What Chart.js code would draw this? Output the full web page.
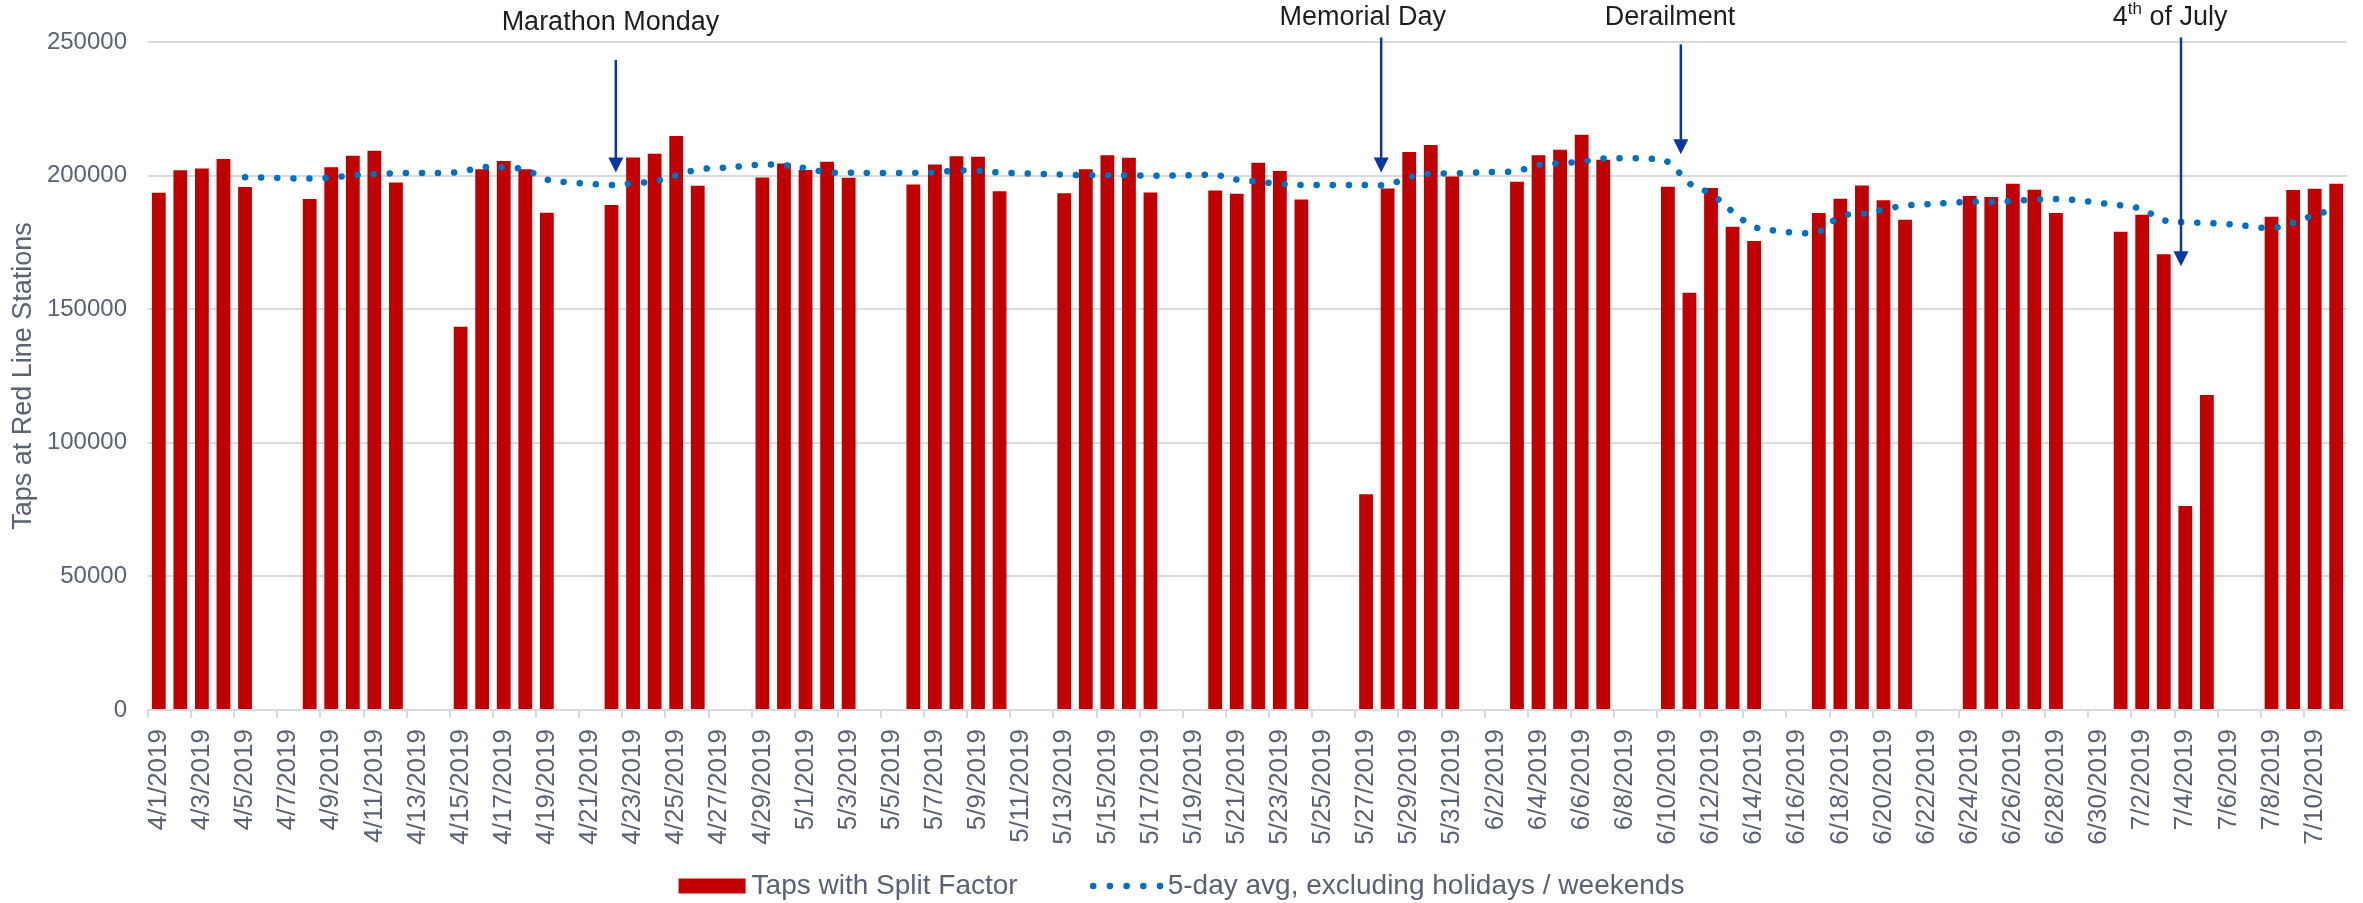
<!DOCTYPE html>
<html>
<head>
<meta charset="utf-8">
<script src="https://cdn.jsdelivr.net/npm/chart.js@4/dist/chart.umd.min.js"></script>
<style>
  html, body { margin: 0; padding: 0; background: #fff; }
  canvas { display: block; }
</style>
</head>
<body>
<canvas id="chart" width="2363" height="903"></canvas>
<script>
const days = [
  "4/1/2019","4/2/2019","4/3/2019","4/4/2019","4/5/2019","4/6/2019","4/7/2019","4/8/2019","4/9/2019","4/10/2019",
  "4/11/2019","4/12/2019","4/13/2019","4/14/2019","4/15/2019","4/16/2019","4/17/2019","4/18/2019","4/19/2019","4/20/2019",
  "4/21/2019","4/22/2019","4/23/2019","4/24/2019","4/25/2019","4/26/2019","4/27/2019","4/28/2019","4/29/2019","4/30/2019",
  "5/1/2019","5/2/2019","5/3/2019","5/4/2019","5/5/2019","5/6/2019","5/7/2019","5/8/2019","5/9/2019","5/10/2019",
  "5/11/2019","5/12/2019","5/13/2019","5/14/2019","5/15/2019","5/16/2019","5/17/2019","5/18/2019","5/19/2019","5/20/2019",
  "5/21/2019","5/22/2019","5/23/2019","5/24/2019","5/25/2019","5/26/2019","5/27/2019","5/28/2019","5/29/2019","5/30/2019",
  "5/31/2019","6/1/2019","6/2/2019","6/3/2019","6/4/2019","6/5/2019","6/6/2019","6/7/2019","6/8/2019","6/9/2019",
  "6/10/2019","6/11/2019","6/12/2019","6/13/2019","6/14/2019","6/15/2019","6/16/2019","6/17/2019","6/18/2019","6/19/2019",
  "6/20/2019","6/21/2019","6/22/2019","6/23/2019","6/24/2019","6/25/2019","6/26/2019","6/27/2019","6/28/2019","6/29/2019",
  "6/30/2019","7/1/2019","7/2/2019","7/3/2019","7/4/2019","7/5/2019","7/6/2019","7/7/2019","7/8/2019","7/9/2019",
  "7/10/2019","7/11/2019"
];

// daily taps (weekends empty)
const taps = [
  193600, 201960, 202700, 206200, 195700, null, null,
  191200, 203100, 207450, 209300, 197450, null, null,
  143450, 202330, 205430, 202330, 186100, null, null,
  188970, 206800, 208200, 214800, 196200, null, null,
  199330, 204570,
  202070, 205200, 199200, null, null,
  196700, 204200, 207200, 207070, 194100, null, null,
  193350, 202330, 207570, 206700, 193700, null, null,
  194470, 193230, 204830, 201700, 191100, null, null,
  80700, 195200, 208800, 211420, 199700,
  null, null,
  197700, 207570, 209700, 215300, 205950, null, null,
  195850, 156180, 195340, 180880, 175500, null, null,
  185980, 191360, 196340, 190730, 183500, null, null,
  192340, 191970, 196980, 194730, 185980, null, null,
  179000, 185370, 170520, 76340, 117870, null, null,
  184630, 194580, 195100, 196980
];

// 5-day average
const avg5 = [
  null, null, null, null, 199380, 199250, 199000, 198900, 199250, 200120,
  200620, 200870, 201000, 201000, 201370, 203120, 203120, 202120, 198500, 197500,
  196880, 196500, 197130, 197880, 200120, 202250, 202870, 203490, 204120, 203870,
  202740, 201250, 201120, 201000, 201000, 201000, 201250, 201870, 201870, 201120,
  200870, 200620, 200370, 200120, 200120, 200120, 200000, 200000, 200120, 200250,
  198500, 197750, 196880, 196500, 196500, 196500, 196500, 196630, 199380, 200750,
  200750,
  201120, 201370, 201750, 203990, 204610, 205240, 206360, 206480, 206360, 205110,
  197060, 193140, 186530, 180860, 179370, 178600, 178960, 184790, 185660, 187280,
  188780, 189280, 189770, 190150, 190150, 190520, 191020, 191270, 190770, 189770,
  188900, 187400, 183290, 182540, 182290, 181790, 181040, 180420, 182290, 185290,
  187400
];

const yTicks = [0, 50000, 100000, 150000, 200000, 250000];

// callouts: where the label sits, where the arrow points (category index, y value)
const callouts = [
  { parts: ["Marathon Monday"], textAt: 20.95, textY: 257400, arrowAt: 21.2, fromY: 243300, toY: 201200 },
  { parts: ["Memorial Day"], textAt: 55.85, textY: 259200, arrowAt: 56.7, fromY: 251700, toY: 201200 },
  { parts: ["Derailment"], textAt: 70.1, textY: 259200, arrowAt: 70.6, fromY: 249100, toY: 208000 },
  { parts: ["4", "th", " of July"], textAt: 93.3, textY: 259200, arrowAt: 93.8, fromY: 251700, toY: 166100 }
];

const FONT = '"Liberation Sans", Arial, sans-serif';
const GREY = "#5B6274";
const GRID = "#D9D9DE";

const calloutPlugin = {
  id: "callouts",
  afterDraw(chart){
    const {ctx, scales: {x, y}} = chart;
    ctx.save();
    callouts.forEach((c)=>{
      // arrow
      const ax = x.getPixelForValue(c.arrowAt);
      const y1 = y.getPixelForValue(c.fromY);
      const y2 = y.getPixelForValue(c.toY);
      ctx.strokeStyle = "#0B37A3";
      ctx.fillStyle = "#0B37A3";
      ctx.lineWidth = 2.5;
      ctx.setLineDash([]);
      ctx.beginPath();
      ctx.moveTo(ax, y1);
      ctx.lineTo(ax, y2 - 12);
      ctx.stroke();
      ctx.beginPath();
      ctx.moveTo(ax - 7.5, y2 - 15);
      ctx.lineTo(ax + 7.5, y2 - 15);
      ctx.lineTo(ax, y2);
      ctx.closePath();
      ctx.fill();

      // label
      const tx = x.getPixelForValue(c.textAt);
      const ty = y.getPixelForValue(c.textY);
      ctx.fillStyle = "#1E1E1E";
      ctx.textBaseline = "middle";
      const big = "27px " + FONT, small = "17px " + FONT;
      if(c.parts.length === 1){
        ctx.font = big;
        ctx.textAlign = "center";
        ctx.fillText(c.parts[0], tx, ty);
      }else{
        ctx.textAlign = "left";
        ctx.font = big;
        const w0 = ctx.measureText(c.parts[0]).width;
        const w2 = ctx.measureText(c.parts[2]).width;
        ctx.font = small;
        const w1 = ctx.measureText(c.parts[1]).width;
        let cx = tx - (w0 + w1 + w2) / 2;
        ctx.font = big;
        ctx.fillText(c.parts[0], cx, ty);
        cx += w0;
        ctx.font = small;
        ctx.fillText(c.parts[1], cx, ty - 8);
        cx += w1;
        ctx.font = big;
        ctx.fillText(c.parts[2], cx, ty);
      }
    });
    ctx.restore();
  }
};

// legend under the axis labels, spaced like the original
const legendPlugin = {
  id: "bottomLegend",
  afterDraw(chart){
    const {ctx} = chart;
    const [bars, line] = chart.data.datasets;
    const cy = 886, boxW = 67, gap = 6, between = 72, markW = 74;
    ctx.save();
    ctx.font = "28px " + FONT;
    ctx.textBaseline = "middle";
    ctx.textAlign = "left";
    const w1 = ctx.measureText(bars.label).width;
    const w2 = ctx.measureText(line.label).width;
    let x = (chart.width - (boxW + gap + w1 + between + markW + 4 + w2)) / 2;

    ctx.fillStyle = bars.backgroundColor;
    ctx.fillRect(x, cy - 7.5, boxW, 15);
    x += boxW + gap;
    ctx.fillStyle = GREY;
    ctx.fillText(bars.label, x, cy);
    x += w1 + between;

    ctx.strokeStyle = line.borderColor;
    ctx.lineWidth = line.borderWidth;
    ctx.lineCap = "round";
    ctx.setLineDash([0.1, 16.6]);
    ctx.beginPath();
    ctx.moveTo(x + 3.5, cy);
    ctx.lineTo(x + 3.5 + 67, cy);
    ctx.stroke();
    ctx.setLineDash([]);
    x += markW + 4;
    ctx.fillStyle = GREY;
    ctx.fillText(line.label, x, cy);
    ctx.restore();
  }
};

new Chart(document.getElementById("chart"), {
  data: {
    labels: days,
    datasets: [
      {
        type: "bar",
        label: "Taps with Split Factor",
        data: taps,
        backgroundColor: "#C00000",
        borderWidth: 0,
        barPercentage: 0.64,
        categoryPercentage: 1.0,
        order: 2
      },
      {
        type: "line",
        label: "5-day avg, excluding holidays / weekends",
        data: avg5,
        borderColor: "#0070C0",
        backgroundColor: "rgba(0,0,0,0)",
        borderWidth: 6.5,
        borderDash: [0.1, 16],
        borderCapStyle: "round",
        pointRadius: 0,
        tension: 0.4,
        fill: false,
        order: 1
      }
    ]
  },
  options: {
    responsive: false,
    animation: false,
    layout: { padding: { top: 42, right: 16, bottom: 41, left: 0 } },
    plugins: {
      tooltip: { enabled: false },
      legend: { display: false }
    },
    scales: {
      x: {
        offset: true,
        grid: {
          offset: true,
          drawOnChartArea: false,
          drawTicks: true,
          tickLength: 8,
          lineWidth: 2,
          color: (c)=> (c.index % 2 === 0 ? GRID : "rgba(0,0,0,0)")
        },
        border: { display: true, color: GRID, width: 2 },
        ticks: {
          autoSkip: false,
          maxRotation: 90,
          minRotation: 90,
          padding: 11,
          color: GREY,
          font: { family: FONT, size: 26 },
          callback(value, index){ return index % 2 === 0 ? days[index] : ""; }
        },
        afterFit(scale){
          scale.height = 152;
          scale.paddingLeft = 0;
          scale.paddingRight = 0;
        }
      },
      y: {
        min: 0,
        max: 250000,
        afterBuildTicks(scale){ scale.ticks = yTicks.map((v)=> ({ value: v })); },
        grid: { color: GRID, lineWidth: 2, drawTicks: false },
        border: { display: false },
        ticks: {
          padding: 21,
          color: GREY,
          font: { family: FONT, size: 24 },
          callback(value){ return String(value); }
        },
        title: {
          display: true,
          text: "Taps at Red Line Stations",
          color: GREY,
          font: { family: FONT, size: 27 },
          padding: { top: 7, bottom: 0 }
        },
        afterFit(scale){ scale.width = 148; }
      }
    }
  },
  plugins: [calloutPlugin, legendPlugin]
});
</script>
</body>
</html>
